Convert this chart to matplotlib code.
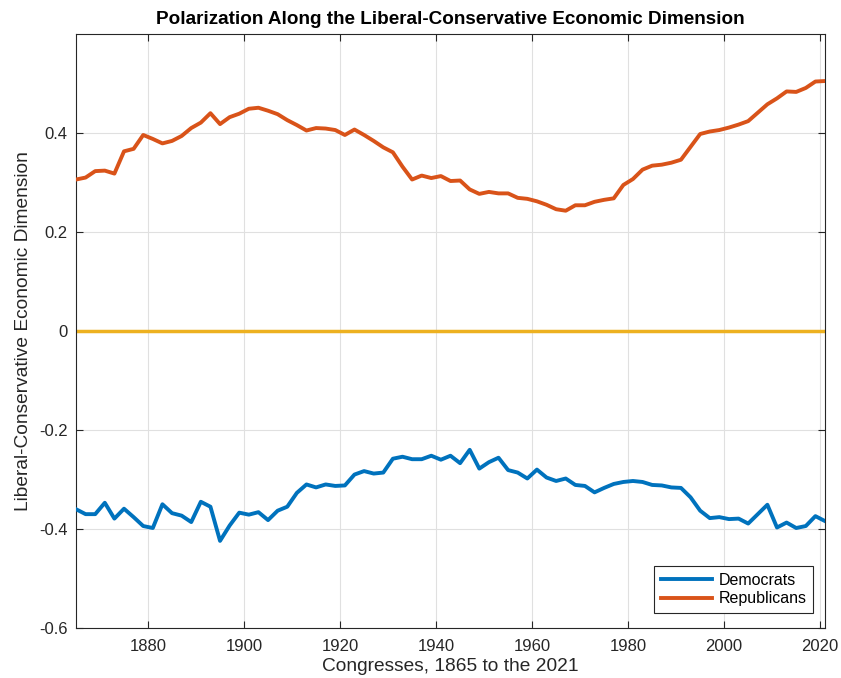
import matplotlib
matplotlib.use("Agg")
import matplotlib.pyplot as plt
import numpy as np
from matplotlib.ticker import FuncFormatter

years = list(range(1865, 2022, 2))
republicans = [0.306, 0.310, 0.323, 0.324, 0.318, 0.363, 0.368, 0.396, 0.388, 0.379,
               0.384, 0.394, 0.410, 0.421, 0.440, 0.418, 0.432, 0.439, 0.449, 0.451,
               0.445, 0.438, 0.426, 0.416, 0.405, 0.410, 0.409, 0.406, 0.396, 0.407,
               0.396, 0.384, 0.371, 0.361, 0.332, 0.306, 0.314, 0.309, 0.313, 0.303,
               0.304, 0.286, 0.277, 0.281, 0.278, 0.278, 0.269, 0.267, 0.262, 0.255,
               0.246, 0.243, 0.254, 0.254, 0.261, 0.265, 0.268, 0.295, 0.307, 0.326,
               0.334, 0.336, 0.340, 0.346, 0.372, 0.398, 0.403, 0.406, 0.411, 0.417,
               0.424, 0.441, 0.458, 0.470, 0.484, 0.483, 0.491, 0.504, 0.505]
democrats = [-0.360, -0.370, -0.370, -0.347, -0.379, -0.359, -0.376, -0.394, -0.398, -0.350,
             -0.368, -0.373, -0.386, -0.345, -0.355, -0.424, -0.393, -0.367, -0.371, -0.366,
             -0.382, -0.363, -0.355, -0.327, -0.310, -0.316, -0.310, -0.313, -0.312, -0.290,
             -0.283, -0.288, -0.286, -0.258, -0.254, -0.259, -0.259, -0.252, -0.260, -0.252,
             -0.267, -0.240, -0.278, -0.265, -0.256, -0.281, -0.286, -0.298, -0.280, -0.296,
             -0.303, -0.298, -0.311, -0.313, -0.326, -0.317, -0.309, -0.305, -0.303, -0.305,
             -0.311, -0.312, -0.316, -0.317, -0.336, -0.363, -0.378, -0.376, -0.380, -0.379,
             -0.389, -0.370, -0.351, -0.397, -0.387, -0.398, -0.394, -0.374, -0.384]
xticks = [1880, 1900, 1920, 1940, 1960, 1980, 2000, 2020]
yticks = [-0.6, -0.4, -0.2, 0, 0.2, 0.4]

plt.rcParams['font.family'] = ['Liberation Sans', 'DejaVu Sans']

fig = plt.figure(figsize=(8.41, 6.78), dpi=100)
ax = fig.add_axes([76/841, 1 - 628/678, (825-76)/841, (628-34)/678])

axc = (0.15, 0.15, 0.15)
ax.plot(years, democrats, color='#0072BD', lw=2.8, label='Democrats', zorder=3)
ax.plot(years, republicans, color='#D95319', lw=2.8, label='Republicans', zorder=3)
ax.axhline(0, color='#EDB120', lw=2.5, zorder=2)

ax.set_xlim(1865, 2021)
ax.set_ylim(-0.6, 0.6)
ax.set_xticks(xticks)
ax.set_yticks(yticks)
ax.yaxis.set_major_formatter(FuncFormatter(lambda v, p: ('%g' % v) if abs(v) > 1e-9 else '0'))
ax.grid(True, color=(0.88, 0.88, 0.88), lw=0.8, zorder=0)
ax.set_axisbelow(True)
ax.tick_params(direction='in', length=5, width=0.8, colors=axc, labelsize=12,
               top=True, right=True, labelcolor=(0.15, 0.15, 0.15))
ax.tick_params(axis='x', pad=8)
ax.tick_params(axis='y', pad=6)
for s in ax.spines.values():
    s.set_color(axc)
    s.set_linewidth(0.8)

ax.set_title('Polarization Along the Liberal-Conservative Economic Dimension',
             fontsize=13.6, fontweight='bold', pad=7)
ax.set_xlabel('Congresses, 1865 to the 2021', fontsize=13.8, color=axc, labelpad=3)
ax.set_ylabel('Liberal-Conservative Economic Dimension', fontsize=13.8, color=axc, labelpad=5)

leg = ax.legend(loc='lower right', bbox_to_anchor=(0.984, 0.025), fontsize=11.5,
                frameon=True, fancybox=False, edgecolor=axc, framealpha=1,
                handlelength=3.2, borderpad=0.42, labelspacing=0.24, handletextpad=0.4,
                borderaxespad=0)
leg.get_frame().set_linewidth(0.8)

fig.savefig('out.png', dpi=100)
